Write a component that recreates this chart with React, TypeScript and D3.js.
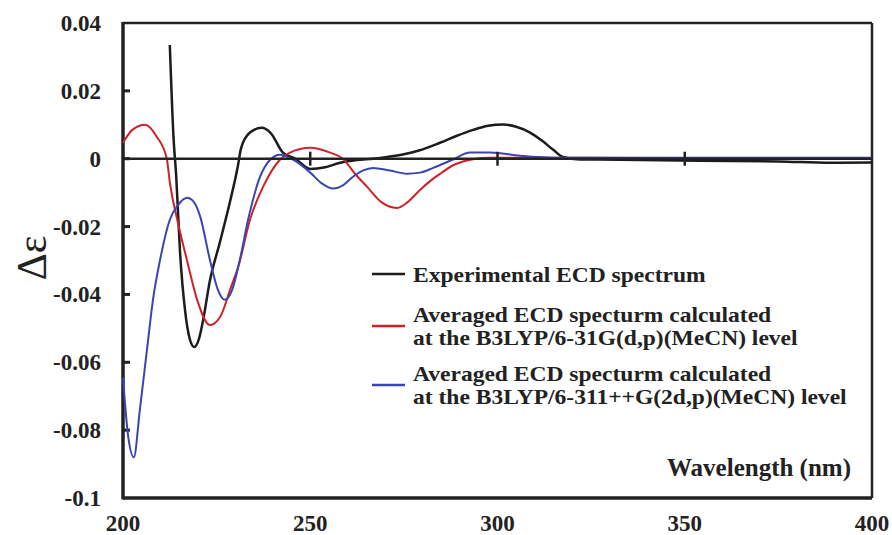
import * as d3 from 'd3';

// wavelength (nm) / delta epsilon
const expWl = [212.5, 213.5, 214.2, 215.2, 216.6, 217.8, 219, 220.3, 221.4, 223.2, 225.9, 228.5, 230.7, 231.5, 233.9, 237, 239.5, 242.7, 246, 250, 254, 258, 262.5, 266.8, 271, 275, 279, 284.6, 289, 293.5, 297.5, 301.5, 305, 308.7, 312, 314.8, 317.5, 322, 332.7, 354, 375, 389, 400];
const expVal = [0.0335, 0.006, -0.005, -0.027, -0.045, -0.053, -0.0555, -0.053, -0.0475, -0.036, -0.0245, -0.013, -0.002, 0.003, 0.0077, 0.0091, 0.0075, 0.0018, 0, -0.003, -0.0025, -0.0012, -0.0004, 0, 0.0006, 0.0013, 0.0024, 0.0047, 0.0067, 0.0085, 0.0097, 0.0101, 0.0094, 0.0077, 0.0052, 0.0027, 0.0005, -0.0002, -0.0003, -0.0006, -0.0008, -0.0012, -0.0011];

const b3Wl = [200, 202.5, 205.9, 209, 211.7, 212.5, 214.7, 217.1, 219.8, 223.2, 226, 228.6, 231, 233.9, 237.4, 241.9, 244.6, 250, 255.3, 258.7, 262, 265.2, 269, 273.2, 276, 279.3, 282, 285, 288, 292.7, 297.5, 310, 340, 370, 400];
const b3Val = [0.0047, 0.0085, 0.010, 0.0065, 0, -0.007, -0.019, -0.030, -0.0416, -0.049, -0.0465, -0.0386, -0.031, -0.018, -0.0083, -0.0003, 0.0018, 0.0032, 0.0018, 0, -0.0045, -0.0083, -0.0128, -0.0145, -0.0128, -0.0092, -0.0066, -0.0042, -0.002, -0.0003, 0.0003, 0.0003, 0.0002, 0.0002, 0.0002];

const b3pWl = [200, 201.4, 202.9, 204.5, 206.4, 208, 209.9, 212.5, 214.8, 217.1, 218.9, 220.6, 223.2, 225.3, 227.2, 229.2, 231.2, 233.4, 236.6, 239.3, 241.9, 245.4, 250, 253, 256.1, 258.8, 261.4, 264, 266.8, 271.3, 275.8, 279.3, 282.8, 288, 292.7, 298, 306, 317.5, 340, 370, 400];
const b3pVal = [-0.0645, -0.082, -0.088, -0.074, -0.0563, -0.0416, -0.0298, -0.018, -0.0135, -0.0115, -0.0127, -0.017, -0.0298, -0.0385, -0.0416, -0.0385, -0.0298, -0.018, -0.0053, -0.0003, 0.0012, -0.0003, -0.0041, -0.0072, -0.0088, -0.0078, -0.0053, -0.0035, -0.0027, -0.0035, -0.0044, -0.0041, -0.0027, -0.0003, 0.0018, 0.0018, 0.0009, 0.0003, 0.0003, 0.0003, 0.0003];

const yTicks = [0.04, 0.02, 0, -0.02, -0.04, -0.06, -0.08, -0.1];
const yTickLabels = ['0.04', '0.02', '0', '-0.02', '-0.04', '-0.06', '-0.08', '-0.1'];
const xTicks = [200, 250, 300, 350, 400];

const seriesNames = ['exp', 'b3', 'b3p'];
const seriesColors = ['#1c1c1c', '#cc2229', '#3a45b3'];
const legendLines = [
  ['Experimental ECD spectrum'],
  ['Averaged ECD specturm calculated', 'at the B3LYP/6-31G(d,p)(MeCN) level'],
  ['Averaged ECD specturm calculated', 'at the B3LYP/6-311++G(2d,p)(MeCN) level'],
];

const width = 892,
  height = 535,
  marginLeft = 123,
  marginRight = 20,
  marginTop = 23,
  marginBottom = 37;

const font = '"Liberation Serif", "Times New Roman", serif';

export default function App() {
  const x = d3
    .scaleLinear()
    .domain([200, 400])
    .range([marginLeft, width - marginRight]);
  const y = d3
    .scaleLinear()
    .domain([-0.1, 0.04])
    .range([height - marginBottom, marginTop]);

  const line = d3
    .line<[number, number]>()
    .x((d) => x(d[0]))
    .y((d) => y(d[1]))
    .curve(d3.curveMonotoneX);

  const series = [
    d3.zip(expWl, expVal),
    d3.zip(b3Wl, b3Val),
    d3.zip(b3pWl, b3pVal),
  ] as [number, number][][];

  const left = x(200),
    right = x(400),
    top = y(0.04),
    bottom = y(-0.1),
    zero = y(0);

  const legendY = [274, 326, 385];

  return (
    <svg
      width={width}
      height={height}
      style={{ position: 'absolute', left: 0, top: 0, background: '#fff' }}
    >
      {/* frame */}
      <line x1={left} y1={top} x2={right} y2={top} stroke="#222" strokeWidth={2.5} />
      <line x1={right} y1={top} x2={right} y2={bottom} stroke="#222" strokeWidth={2.5} />
      <line x1={left} y1={top - 1} x2={left} y2={bottom + 1.5} stroke="#222" strokeWidth={3.5} />
      <line x1={left} y1={bottom} x2={right} y2={bottom} stroke="#222" strokeWidth={3.5} />

      {/* y ticks */}
      {yTicks.map((t, i) => (
        <g key={t}>
          {t > -0.1 && t < 0.04 && (
            <line x1={left} x2={left + 7} y1={y(t)} y2={y(t)} stroke="#222" strokeWidth={3} />
          )}
          <text
            x={101}
            y={y(t)}
            dy="0.35em"
            textAnchor="end"
            fontFamily={font}
            fontWeight="bold"
            fontSize={23}
            fill="#222"
          >
            {yTickLabels[i]}
          </text>
        </g>
      ))}

      {/* x tick labels */}
      {xTicks.map((t) => (
        <text
          key={t}
          x={x(t)}
          y={531}
          textAnchor="middle"
          fontFamily={font}
          fontWeight="bold"
          fontSize={23}
          fill="#222"
        >
          {t}
        </text>
      ))}

      {/* curves */}
      {series.map((s, i) => (
        <path
          key={seriesNames[i]}
          d={line(s) ?? ''}
          fill="none"
          stroke={seriesColors[i]}
          strokeWidth={i === 0 ? 2.5 : 2}
        />
      ))}

      {/* zero line with crossing ticks */}
      <line x1={left} y1={zero} x2={right} y2={zero} stroke="#222" strokeWidth={2.5} />
      {xTicks
        .filter((t) => t > 200 && t < 400)
        .map((t) => (
          <line key={t} x1={x(t)} x2={x(t)} y1={zero - 7} y2={zero + 7} stroke="#222" strokeWidth={2.5} />
        ))}

      {/* legend */}
      {legendLines.map((lines, i) => (
        <g key={i}>
          <line x1={372} x2={405} y1={legendY[i]} y2={legendY[i]} stroke={seriesColors[i]} strokeWidth={2.5} />
          {lines.map((txt, j) => (
            <text
              key={j}
              transform={`translate(413,${lines.length === 1 ? legendY[i] + 8 : legendY[i] - 4 + j * 23}) scale(1.07,1)`}
              fontFamily={font}
              fontWeight="bold"
              fontSize={22}
              fill="#222"
            >
              {txt}
            </text>
          ))}
        </g>
      ))}

      {/* axis titles */}
      <text
        x={851}
        y={476}
        textAnchor="end"
        fontFamily={font}
        fontWeight="bold"
        fontSize={25}
        fill="#222"
      >
        Wavelength (nm)
      </text>
      <text
        transform={`translate(46,258) rotate(-90)`}
        textAnchor="middle"
        fontFamily={font}
        fontSize={42}
        fill="#222"
      >
        Δε
      </text>
    </svg>
  );
}
